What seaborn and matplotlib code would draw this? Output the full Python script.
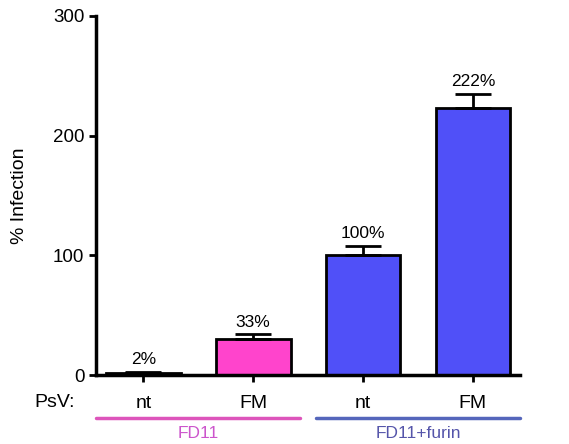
import matplotlib
matplotlib.use("Agg")
import matplotlib.pyplot as plt
import seaborn as sns
import pandas as pd

# chart values
conditions = ["nt", "FM", "nt", "FM"]
infection = [2, 30, 100, 223]
err_upper = [1, 4, 8, 12]
labels = ["2%", "33%", "100%", "222%"]
bar_colors = ["#FF44CC", "#FF44CC", "#5050F8", "#5050F8"]
groups = ["FD11", "FD11+furin"]

sns.set_style("ticks")
plt.rcParams['font.family'] = ['Liberation Sans', 'DejaVu Sans']
plt.rcParams['text.color'] = 'black'
plt.rcParams['xtick.color'] = 'black'
plt.rcParams['ytick.color'] = 'black'
plt.rcParams['axes.labelcolor'] = 'black'

df = pd.DataFrame({"pos": range(len(conditions)), "val": infection})

fig = plt.figure(figsize=(5.69, 4.44), dpi=100)
ax = fig.add_axes([0.169, 0.155, 0.745, 0.809])

sns.barplot(data=df, x="pos", y="val", hue="pos", palette=bar_colors,
            width=0.68, edgecolor="black", linewidth=2, legend=False,
            errorbar=None, saturation=1, ax=ax)

# upper-only error bars
ax.errorbar(df["pos"], infection, yerr=[[0] * len(err_upper), err_upper],
            fmt="none", ecolor="black", elinewidth=2, capsize=13, capthick=2, zorder=1)

for i, (v, e, t) in enumerate(zip(infection, err_upper, labels)):
    ax.text(i, v + e + 4, t, ha="center", va="bottom", fontsize=12.5)

ax.set_xlim(-0.43, 3.43)
ax.set_ylim(0, 300)
ax.set_yticks([0, 100, 200, 300])
ax.set_xticks(range(len(conditions)))
ax.set_xticklabels(conditions, fontsize=14)
ax.tick_params(axis="y", labelsize=13.5, width=2, length=5)
ax.tick_params(axis="x", width=2, length=5, pad=9)
ax.set_xlabel("")
ax.set_ylabel("% Infection", fontsize=14, labelpad=18)
sns.despine(ax=ax)
for s in ["left", "bottom"]:
    ax.spines[s].set_linewidth(2.5)
    ax.spines[s].set_color("black")

# group annotations below axis
fig.text(0.06, 0.093, "PsV:", fontsize=14, ha="left", va="center")
trans = ax.get_xaxis_transform()
ax.plot([-0.43, 1.43], [-0.12, -0.12], color="#DD55BB", lw=2.5, transform=trans, clip_on=False)
ax.plot([1.57, 3.43], [-0.12, -0.12], color="#5566BB", lw=2.5, transform=trans, clip_on=False)
ax.text(0.5, -0.162, groups[0], color="#CC55CC", fontsize=12.5, ha="center", va="center", transform=trans)
ax.text(2.5, -0.162, groups[1], color="#5555AA", fontsize=12.5, ha="center", va="center", transform=trans)

fig.savefig("out.png", dpi=100)
